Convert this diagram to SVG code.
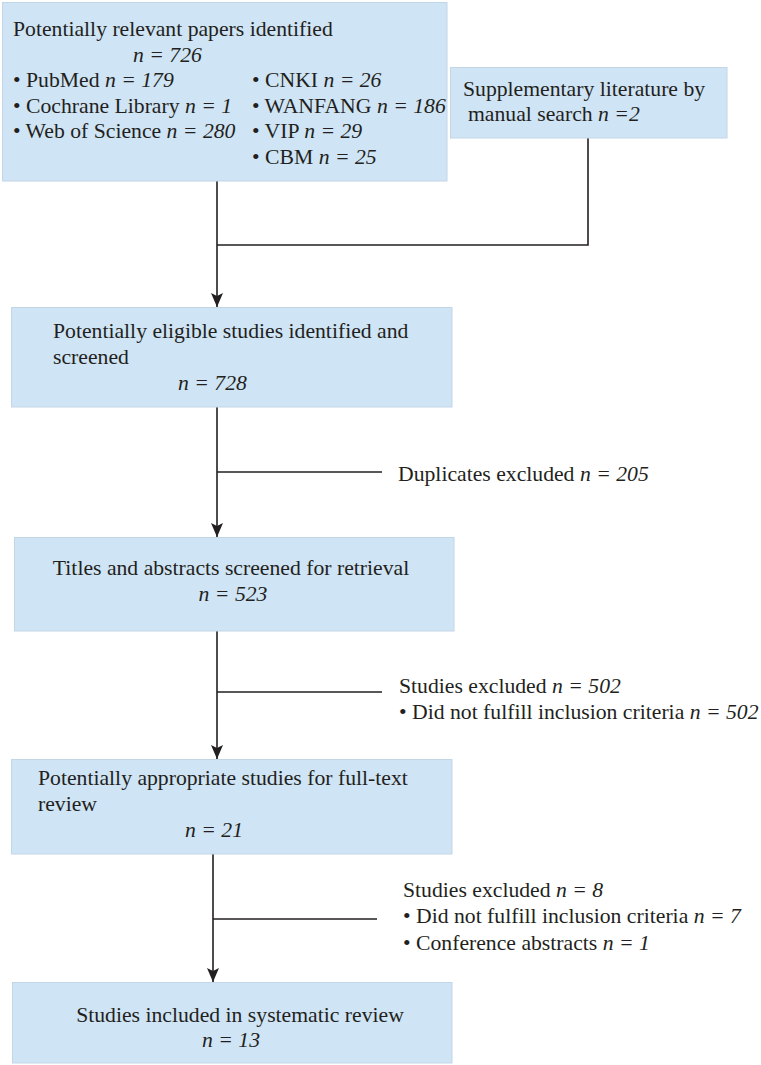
<svg xmlns="http://www.w3.org/2000/svg" width="761" height="1065" viewBox="0 0 761 1065">
<style>
.box{fill:#cfe4f5;stroke:#c3d6e6;stroke-width:1}
text{font-family:"Liberation Serif","Times New Roman",serif;font-size:21.7px;fill:#231f20}
.i{font-style:italic}
.ln{stroke:#231f20;stroke-width:1.6;fill:none}
</style>
<defs>
<marker id="ah" markerWidth="14" markerHeight="12" refX="14" refY="6" orient="auto" markerUnits="userSpaceOnUse" viewBox="0 0 14 12">
<path d="M0,0 L14,6 L0,12 L3,6 Z" fill="#231f20"/>
</marker>
</defs>
<rect width="761" height="1065" fill="#ffffff"/>
<g id="connectors">
<path class="ln" d="M588,138 V245 H217"/>
<path class="ln" d="M217,181 V307" marker-end="url(#ah)"/>
<path class="ln" d="M217,407 V537" marker-end="url(#ah)"/>
<path class="ln" d="M217,472 H382"/>
<path class="ln" d="M217,631 V759" marker-end="url(#ah)"/>
<path class="ln" d="M217,692 H382"/>
<path class="ln" d="M213,854 V982" marker-end="url(#ah)"/>
<path class="ln" d="M213,919 H377"/>
</g>
<g id="n1">
<rect class="box" x="2.5" y="2.5" width="444.5" height="178.5"/>
<text x="13" y="36">Potentially relevant papers identified</text>
<text x="133" y="62" class="i">n = 726</text>
<text x="13" y="87">• PubMed <tspan class="i">n = 179</tspan></text>
<text x="13" y="113">• Cochrane Library <tspan class="i">n = 1</tspan></text>
<text x="13" y="138">• Web of Science <tspan class="i">n = 280</tspan></text>
<text x="252" y="87">• CNKI <tspan class="i">n = 26</tspan></text>
<text x="252" y="113">• WANFANG <tspan class="i">n = 186</tspan></text>
<text x="252" y="138">• VIP <tspan class="i">n = 29</tspan></text>
<text x="252" y="164">• CBM <tspan class="i">n = 25</tspan></text>
</g>
<g id="n2">
<rect class="box" x="450.5" y="67.5" width="276.5" height="70.5"/>
<text x="463" y="96">Supplementary literature by</text>
<text x="468" y="121">manual search <tspan class="i">n =2</tspan></text>
</g>
<g id="n3">
<rect class="box" x="11.5" y="307.5" width="440.5" height="99.5"/>
<text x="53" y="338">Potentially eligible studies identified and</text>
<text x="53" y="364">screened</text>
<text x="178" y="390" class="i">n = 728</text>
</g>
<g id="e1">
<text x="398" y="481">Duplicates excluded <tspan class="i">n = 205</tspan></text>
</g>
<g id="n4">
<rect class="box" x="14.5" y="537.5" width="439.5" height="93.5"/>
<text x="231" y="575" text-anchor="middle">Titles and abstracts screened for retrieval</text>
<text x="233" y="601" text-anchor="middle" class="i">n = 523</text>
</g>
<g id="e2">
<text x="399" y="693">Studies excluded <tspan class="i">n = 502</tspan></text>
<text x="399" y="719">• Did not fulfill inclusion criteria <tspan class="i">n = 502</tspan></text>
</g>
<g id="n5">
<rect class="box" x="11.5" y="759.5" width="440.5" height="94.5"/>
<text x="38" y="785">Potentially appropriate studies for full-text</text>
<text x="38" y="811">review</text>
<text x="185" y="837" class="i">n = 21</text>
</g>
<g id="e3">
<text x="403" y="897">Studies excluded <tspan class="i">n = 8</tspan></text>
<text x="403" y="923">• Did not fulfill inclusion criteria <tspan class="i">n = 7</tspan></text>
<text x="403" y="950">• Conference abstracts <tspan class="i">n = 1</tspan></text>
</g>
<g id="n6">
<rect class="box" x="12.5" y="982.5" width="439.5" height="80.5"/>
<text x="240" y="1022" text-anchor="middle">Studies included in systematic review</text>
<text x="231" y="1047" text-anchor="middle" class="i">n = 13</text>
</g>
</svg>
